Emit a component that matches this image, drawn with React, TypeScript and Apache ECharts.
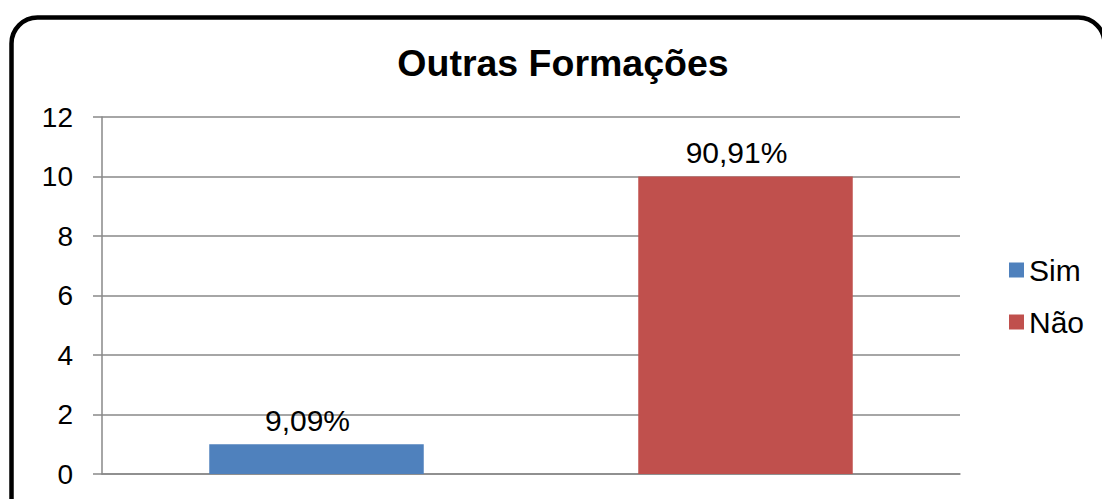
import React, { useEffect, useRef } from "react";
import * as echarts from "echarts";

const title = "Outras Formações";
const categories = ["Sim", "Não"];
const simValues = [1, "-"];
const naoValues = ["-", 10];
const percentLabels = ["9,09%", "90,91%"];
const yTicks = { min: 0, max: 12, interval: 2 };

export default function App() {
  const ref = useRef<HTMLDivElement>(null);
  useEffect(() => {
    if (!ref.current) return;
    const chart = echarts.init(ref.current, undefined, { renderer: "svg" });
    const font = "'Liberation Sans', Arial, sans-serif";
    const grey = "#898989";
    const labelStyle = (i: number) => ({
      show: true,
      position: "top",
      distance: 8,
      offset: [-9, -1],
      formatter: () => percentLabels[i],
      fontFamily: font,
      fontSize: 30,
      color: "#000",
    });
    chart.setOption({
      animation: false,
      backgroundColor: "#ffffff",
      title: {
        text: title,
        left: 558,
        top: 39,
        textAlign: "center",
        textStyle: { fontFamily: font, fontSize: 37.5, fontWeight: "bold", color: "#000" },
      },
      graphic: [
        {
          type: "rect",
          shape: { x: 11.5, y: 17.5, width: 1093, height: 520, r: 26 },
          style: { fill: "none", stroke: "#000", lineWidth: 4.5 },
          z: 100,
        },
      ],
      legend: {
        orient: "vertical",
        left: 1004,
        top: 250,
        itemWidth: 15,
        itemHeight: 15,
        itemGap: 22,
        icon: "rect",
        data: categories,
        textStyle: { fontFamily: font, fontSize: 30, color: "#000", padding: [0, 0, 0, 0], lineHeight: 30 },
      },
      grid: { left: 102, right: 142, top: 117, bottom: 25, containLabel: false },
      xAxis: {
        type: "category",
        data: categories,
        axisLabel: { show: false },
        axisTick: { show: false },
        axisLine: { show: true, lineStyle: { color: grey, width: 1.5 } },
      },
      yAxis: {
        type: "value",
        min: yTicks.min,
        max: yTicks.max,
        interval: yTicks.interval,
        axisLine: { show: true, lineStyle: { color: grey, width: 1.5 } },
        axisTick: { show: true, length: 9, lineStyle: { color: grey, width: 1.5 } },
        axisLabel: { margin: 29, fontFamily: font, fontSize: 28, color: "#000" },
        splitLine: { show: true, lineStyle: { color: grey, width: 1.5 } },
      },
      series: [
        {
          name: categories[0],
          type: "bar",
          stack: "all",
          barWidth: "50%",
          data: simValues,
          itemStyle: { color: "#4F81BD" },
          label: labelStyle(0),
        },
        {
          name: categories[1],
          type: "bar",
          stack: "all",
          barWidth: "50%",
          data: naoValues,
          itemStyle: { color: "#C0504D" },
          label: labelStyle(1),
        },
      ],
    });
    return () => chart.dispose();
  }, []);
  return (
    <div
      ref={ref}
      style={{ position: "fixed", left: 0, top: 0, width: 1102, height: 499 }}
    />
  );
}
